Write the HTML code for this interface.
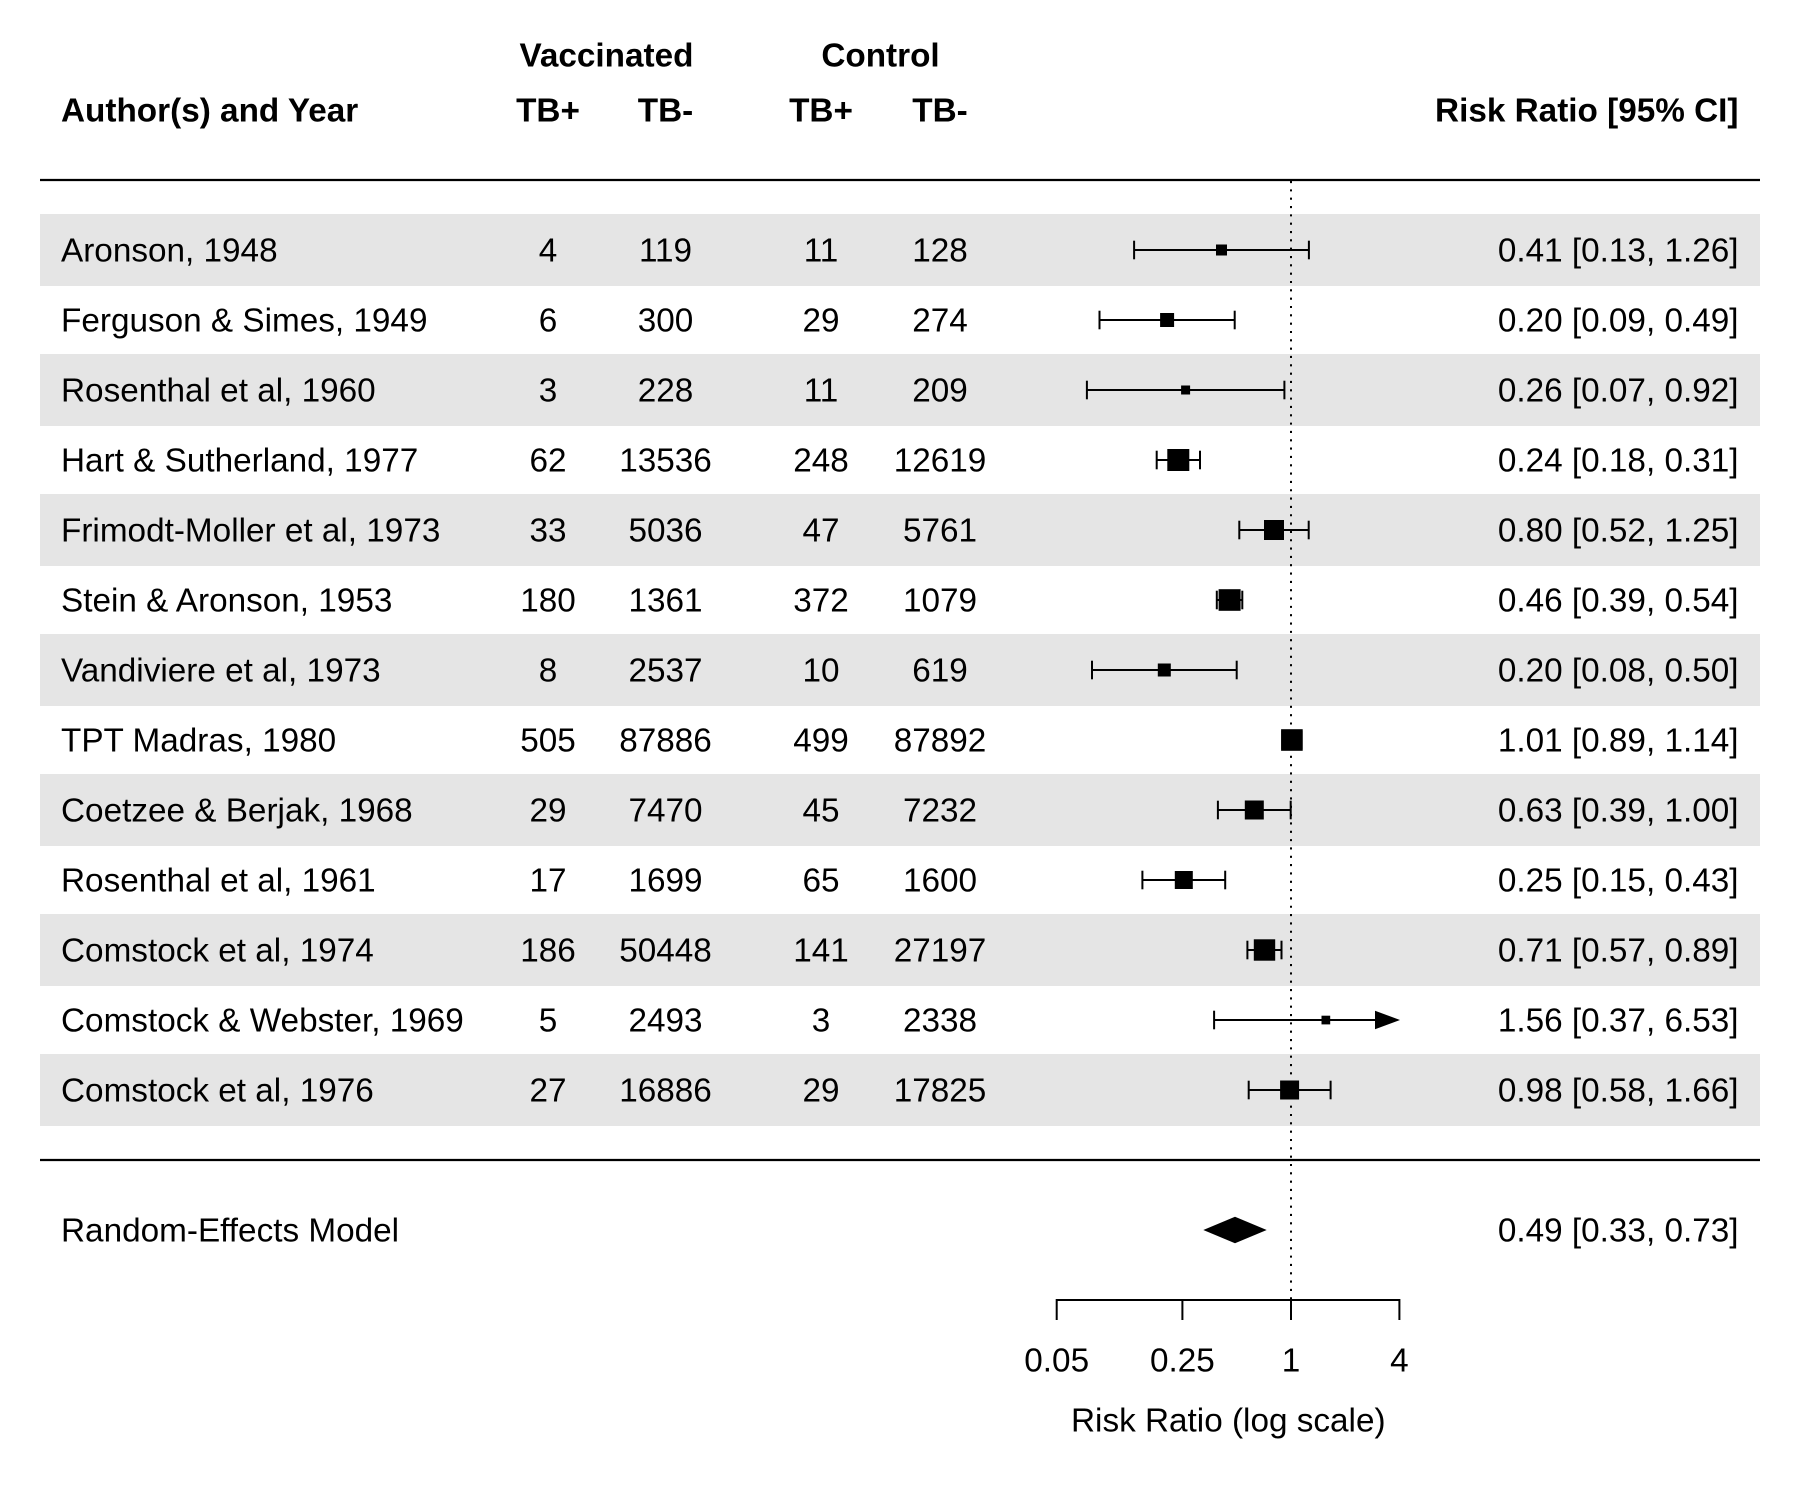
<!DOCTYPE html>
<html>
<head>
<meta charset="utf-8">
<style>
  html, body { margin: 0; padding: 0; background: #ffffff; }
  svg { display: block; }
  text { font-family: "Liberation Sans", Arial, sans-serif; font-size: 33.3px; fill: #000; }
  .b { font-weight: bold; }
  .c { text-anchor: middle; }
  .r { text-anchor: end; }
</style>
</head>
<body>
<svg xmlns="http://www.w3.org/2000/svg" width="1800" height="1500" viewBox="0 0 1800 1500">
  <rect x="0" y="0" width="1800" height="1500" fill="#ffffff"/>

  <!-- alternating bands -->
  <g fill="#e5e5e5">
    <rect x="40" y="214" width="1720" height="72"/>
    <rect x="40" y="354" width="1720" height="72"/>
    <rect x="40" y="494" width="1720" height="72"/>
    <rect x="40" y="634" width="1720" height="72"/>
    <rect x="40" y="774" width="1720" height="72"/>
    <rect x="40" y="914" width="1720" height="72"/>
    <rect x="40" y="1054" width="1720" height="72"/>
  </g>

  <!-- header -->
  <text class="b c" x="606.5" y="66.7">Vaccinated</text>
  <text class="b c" x="880.5" y="66.7">Control</text>
  <text class="b" x="61" y="121.7">Author(s) and Year</text>
  <text class="b c" x="548" y="121.7">TB+</text>
  <text class="b c" x="665.5" y="121.7">TB-</text>
  <text class="b c" x="821" y="121.7">TB+</text>
  <text class="b c" x="940" y="121.7">TB-</text>
  <text class="b r" x="1738.5" y="121.7">Risk Ratio [95% CI]</text>

  <!-- horizontal rules -->
  <line x1="40" y1="180" x2="1760" y2="180" stroke="#000" stroke-width="2.2"/>
  <line x1="40" y1="1160" x2="1760" y2="1160" stroke="#000" stroke-width="2.2"/>

  <!-- reference line -->
  <line x1="1291" y1="181" x2="1291" y2="1300" stroke="#000" stroke-width="2" stroke-dasharray="2.1 6.23"/>

  <!-- study rows text -->
  <g>
    <text x="61" y="261.7">Aronson, 1948</text>
    <text class="c" x="548" y="261.7">4</text><text class="c" x="665.5" y="261.7">119</text><text class="c" x="821" y="261.7">11</text><text class="c" x="940" y="261.7">128</text>
    <text class="r" x="1738.5" y="261.7">0.41 [0.13, 1.26]</text>

    <text x="61" y="331.7">Ferguson &amp; Simes, 1949</text>
    <text class="c" x="548" y="331.7">6</text><text class="c" x="665.5" y="331.7">300</text><text class="c" x="821" y="331.7">29</text><text class="c" x="940" y="331.7">274</text>
    <text class="r" x="1738.5" y="331.7">0.20 [0.09, 0.49]</text>

    <text x="61" y="401.7">Rosenthal et al, 1960</text>
    <text class="c" x="548" y="401.7">3</text><text class="c" x="665.5" y="401.7">228</text><text class="c" x="821" y="401.7">11</text><text class="c" x="940" y="401.7">209</text>
    <text class="r" x="1738.5" y="401.7">0.26 [0.07, 0.92]</text>

    <text x="61" y="471.7">Hart &amp; Sutherland, 1977</text>
    <text class="c" x="548" y="471.7">62</text><text class="c" x="665.5" y="471.7">13536</text><text class="c" x="821" y="471.7">248</text><text class="c" x="940" y="471.7">12619</text>
    <text class="r" x="1738.5" y="471.7">0.24 [0.18, 0.31]</text>

    <text x="61" y="541.7">Frimodt-Moller et al, 1973</text>
    <text class="c" x="548" y="541.7">33</text><text class="c" x="665.5" y="541.7">5036</text><text class="c" x="821" y="541.7">47</text><text class="c" x="940" y="541.7">5761</text>
    <text class="r" x="1738.5" y="541.7">0.80 [0.52, 1.25]</text>

    <text x="61" y="611.7">Stein &amp; Aronson, 1953</text>
    <text class="c" x="548" y="611.7">180</text><text class="c" x="665.5" y="611.7">1361</text><text class="c" x="821" y="611.7">372</text><text class="c" x="940" y="611.7">1079</text>
    <text class="r" x="1738.5" y="611.7">0.46 [0.39, 0.54]</text>

    <text x="61" y="681.7">Vandiviere et al, 1973</text>
    <text class="c" x="548" y="681.7">8</text><text class="c" x="665.5" y="681.7">2537</text><text class="c" x="821" y="681.7">10</text><text class="c" x="940" y="681.7">619</text>
    <text class="r" x="1738.5" y="681.7">0.20 [0.08, 0.50]</text>

    <text x="61" y="751.7">TPT Madras, 1980</text>
    <text class="c" x="548" y="751.7">505</text><text class="c" x="665.5" y="751.7">87886</text><text class="c" x="821" y="751.7">499</text><text class="c" x="940" y="751.7">87892</text>
    <text class="r" x="1738.5" y="751.7">1.01 [0.89, 1.14]</text>

    <text x="61" y="821.7">Coetzee &amp; Berjak, 1968</text>
    <text class="c" x="548" y="821.7">29</text><text class="c" x="665.5" y="821.7">7470</text><text class="c" x="821" y="821.7">45</text><text class="c" x="940" y="821.7">7232</text>
    <text class="r" x="1738.5" y="821.7">0.63 [0.39, 1.00]</text>

    <text x="61" y="891.7">Rosenthal et al, 1961</text>
    <text class="c" x="548" y="891.7">17</text><text class="c" x="665.5" y="891.7">1699</text><text class="c" x="821" y="891.7">65</text><text class="c" x="940" y="891.7">1600</text>
    <text class="r" x="1738.5" y="891.7">0.25 [0.15, 0.43]</text>

    <text x="61" y="961.7">Comstock et al, 1974</text>
    <text class="c" x="548" y="961.7">186</text><text class="c" x="665.5" y="961.7">50448</text><text class="c" x="821" y="961.7">141</text><text class="c" x="940" y="961.7">27197</text>
    <text class="r" x="1738.5" y="961.7">0.71 [0.57, 0.89]</text>

    <text x="61" y="1031.7">Comstock &amp; Webster, 1969</text>
    <text class="c" x="548" y="1031.7">5</text><text class="c" x="665.5" y="1031.7">2493</text><text class="c" x="821" y="1031.7">3</text><text class="c" x="940" y="1031.7">2338</text>
    <text class="r" x="1738.5" y="1031.7">1.56 [0.37, 6.53]</text>

    <text x="61" y="1101.7">Comstock et al, 1976</text>
    <text class="c" x="548" y="1101.7">27</text><text class="c" x="665.5" y="1101.7">16886</text><text class="c" x="821" y="1101.7">29</text><text class="c" x="940" y="1101.7">17825</text>
    <text class="r" x="1738.5" y="1101.7">0.98 [0.58, 1.66]</text>

    <text x="61" y="1241.7">Random-Effects Model</text>
    <text class="r" x="1738.5" y="1241.7">0.49 [0.33, 0.73]</text>
  </g>

  <!-- CI lines and whiskers -->
  <g stroke="#000" stroke-width="2" fill="none">
    <line x1="1134.1" y1="250" x2="1308.9" y2="250"/><line x1="1134.1" y1="240.7" x2="1134.1" y2="259.3"/><line x1="1308.9" y1="240.7" x2="1308.9" y2="259.3"/>
    <line x1="1099.5" y1="320" x2="1234.7" y2="320"/><line x1="1099.5" y1="310.7" x2="1099.5" y2="329.3"/><line x1="1234.7" y1="310.7" x2="1234.7" y2="329.3"/>
    <line x1="1086.9" y1="390" x2="1284.4" y2="390"/><line x1="1086.9" y1="380.7" x2="1086.9" y2="399.3"/><line x1="1284.4" y1="380.7" x2="1284.4" y2="399.3"/>
    <line x1="1156.7" y1="460" x2="1200.0" y2="460"/><line x1="1156.7" y1="450.7" x2="1156.7" y2="469.3"/><line x1="1200.0" y1="450.7" x2="1200.0" y2="469.3"/>
    <line x1="1239.3" y1="530" x2="1308.7" y2="530"/><line x1="1239.3" y1="520.7" x2="1239.3" y2="539.3"/><line x1="1308.7" y1="520.7" x2="1308.7" y2="539.3"/>
    <line x1="1216.8" y1="600" x2="1242.3" y2="600"/><line x1="1216.8" y1="590.7" x2="1216.8" y2="609.3"/><line x1="1242.3" y1="590.7" x2="1242.3" y2="609.3"/>
    <line x1="1092.0" y1="670" x2="1236.7" y2="670"/><line x1="1092.0" y1="660.7" x2="1092.0" y2="679.3"/><line x1="1236.7" y1="660.7" x2="1236.7" y2="679.3"/>
    <line x1="1282.3" y1="740" x2="1301.6" y2="740"/><line x1="1282.3" y1="730.7" x2="1282.3" y2="749.3"/><line x1="1301.6" y1="730.7" x2="1301.6" y2="749.3"/>
    <line x1="1217.9" y1="810" x2="1290.7" y2="810"/><line x1="1217.9" y1="800.7" x2="1217.9" y2="819.3"/><line x1="1290.7" y1="800.7" x2="1290.7" y2="819.3"/>
    <line x1="1142.4" y1="880" x2="1225.2" y2="880"/><line x1="1142.4" y1="870.7" x2="1142.4" y2="889.3"/><line x1="1225.2" y1="870.7" x2="1225.2" y2="889.3"/>
    <line x1="1247.4" y1="950" x2="1281.5" y2="950"/><line x1="1247.4" y1="940.7" x2="1247.4" y2="959.3"/><line x1="1281.5" y1="940.7" x2="1281.5" y2="959.3"/>
    <line x1="1214.1" y1="1020" x2="1376" y2="1020"/><line x1="1214.1" y1="1010.7" x2="1214.1" y2="1029.3"/>
    <line x1="1248.7" y1="1090" x2="1330.6" y2="1090"/><line x1="1248.7" y1="1080.7" x2="1248.7" y2="1099.3"/><line x1="1330.6" y1="1080.7" x2="1330.6" y2="1099.3"/>
  </g>

  <!-- arrow for Comstock & Webster -->
  <polygon points="1375,1010.7 1400,1020 1375,1029.3" fill="#000"/>

  <!-- squares -->
  <g fill="#000">
    <rect x="1216" y="244.5" width="11" height="11"/>
    <rect x="1160.1" y="313" width="14" height="14"/>
    <rect x="1181.1" y="385.5" width="9" height="9"/>
    <rect x="1167.3" y="449" width="22" height="22"/>
    <rect x="1264" y="520" width="20" height="20"/>
    <rect x="1218.6" y="589.2" width="22" height="21.6"/>
    <rect x="1157.8" y="663.5" width="13" height="13"/>
    <rect x="1281.1" y="729.2" width="21.6" height="21.6"/>
    <rect x="1244.8" y="800.5" width="19" height="19"/>
    <rect x="1174.8" y="871" width="18" height="18"/>
    <rect x="1253.8" y="939.3" width="21.4" height="21.4"/>
    <rect x="1321.5" y="1015.7" width="8.7" height="8.7"/>
    <rect x="1280.1" y="1080.5" width="19" height="19"/>
  </g>

  <!-- summary diamond -->
  <polygon points="1203.3,1230 1235,1216.7 1266.7,1230 1235,1243.3" fill="#000"/>

  <!-- x axis -->
  <g stroke="#000" stroke-width="2" fill="none">
    <line x1="1056.7" y1="1300" x2="1399.4" y2="1300"/>
    <line x1="1056.7" y1="1299" x2="1056.7" y2="1320"/>
    <line x1="1182.4" y1="1299" x2="1182.4" y2="1320"/>
    <line x1="1291" y1="1299" x2="1291" y2="1320"/>
    <line x1="1399.4" y1="1299" x2="1399.4" y2="1320"/>
  </g>
  <text class="c" x="1056.7" y="1371.7">0.05</text>
  <text class="c" x="1182.4" y="1371.7">0.25</text>
  <text class="c" x="1291" y="1371.7">1</text>
  <text class="c" x="1399.4" y="1371.7">4</text>
  <text class="c" x="1228.3" y="1431.7">Risk Ratio (log scale)</text>
</svg>
</body>
</html>
